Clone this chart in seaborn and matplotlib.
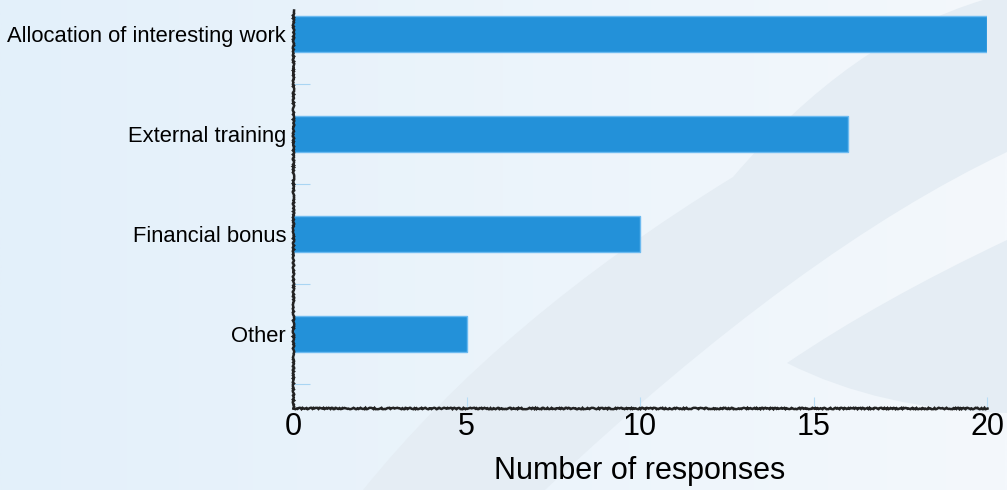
import numpy as np
import pandas as pd
import matplotlib
matplotlib.use("Agg")
import matplotlib.pyplot as plt
from matplotlib.path import Path
from matplotlib.patches import PathPatch
import seaborn as sns

categories = ["Allocation of interesting work", "External training", "Financial bonus", "Other"]
responses = [20, 16, 10, 5]
x_ticks = [0, 5, 10, 15, 20]
x_label = "Number of responses"

sns.set_theme(style="white")
plt.rcParams["font.family"] = ["Liberation Sans", "DejaVu Sans"]

W, H = 1007, 490
fig = plt.figure(figsize=(W / 100, H / 100), dpi=100)

# decorative background: horizontal gradient with soft curved bands
bg = fig.add_axes([0, 0, 1, 1], zorder=-10)
bg.set_xlim(0, W)
bg.set_ylim(H, 0)
bg.axis("off")
left_c = np.array([0xe3, 0xf0, 0xfa]) / 255
right_c = np.array([0xf4, 0xf8, 0xfc]) / 255
t = np.linspace(0, 1, 256)
grad = (left_c[None, :] * (1 - t[:, None]) + right_c[None, :] * t[:, None])[None, :, :]
bg.imshow(grad, extent=[0, W, H, 0], aspect="auto", interpolation="bilinear")

band_color = "#e5edf4"
C3, M, L = Path.CURVE3, Path.MOVETO, Path.LINETO

# sweeping band rising from the bottom toward the upper right
band_verts = [(363, 490),
              (500, 320), (733, 177),
              (850, 40), (983, 0),
              (1007, 0), (1007, 152),
              (800, 250), (545, 490),
              (363, 490)]
band_codes = [M, C3, C3, C3, C3, L, L, C3, C3, L]
bg.add_patch(PathPatch(Path(band_verts, band_codes), facecolor=band_color,
                       edgecolor="none"))

# wedge at the right edge
wedge_verts = [(787, 363), (880, 300), (1007, 240), (1007, 413),
               (880, 410), (787, 363)]
wedge_codes = [M, C3, C3, L, C3, C3]
bg.add_patch(PathPatch(Path(wedge_verts, wedge_codes), facecolor=band_color,
                       edgecolor="none"))

ax = fig.add_axes([293 / W, 1 - 408 / H, (987 - 293) / W, (408 - 10) / H])
ax.patch.set_alpha(0)

df = pd.DataFrame({"category": categories, "responses": responses})
sns.barplot(data=df, y="category", x="responses", orient="h", color="#2391d9",
            saturation=1, width=0.36, edgecolor="#6cbaf0", linewidth=1.0, ax=ax)

ax.set_xlim(0, 20)
ax.set_ylim(3.745, -0.24)
ax.set_xticks(x_ticks)
ax.set_xticklabels([str(v) for v in x_ticks], fontsize=22, color="black")
ax.set_xlabel(x_label, fontsize=22, color="black", labelpad=10)
ax.set_ylabel("")
ax.tick_params(axis="y", which="major", left=True, length=0, labelsize=15.8,
               labelcolor="black", pad=5)
ax.set_yticks([0.5, 1.5, 2.5, 3.5], minor=True)
ax.tick_params(axis="y", which="minor", left=True, direction="in", length=12,
               width=0.8, color="#a9d5f3")
ax.tick_params(axis="x", which="major", bottom=True, direction="in", length=8,
               width=0.8, color="#b9ddf5", pad=3)

for side in ("top", "right"):
    ax.spines[side].set_visible(False)
for side in ("left", "bottom"):
    sp = ax.spines[side]
    sp.set_color("#222222")
    sp.set_linewidth(1.8)
    sp.set_sketch_params(scale=0.7, length=3, randomness=4)

fig.savefig("out.png", dpi=100)
